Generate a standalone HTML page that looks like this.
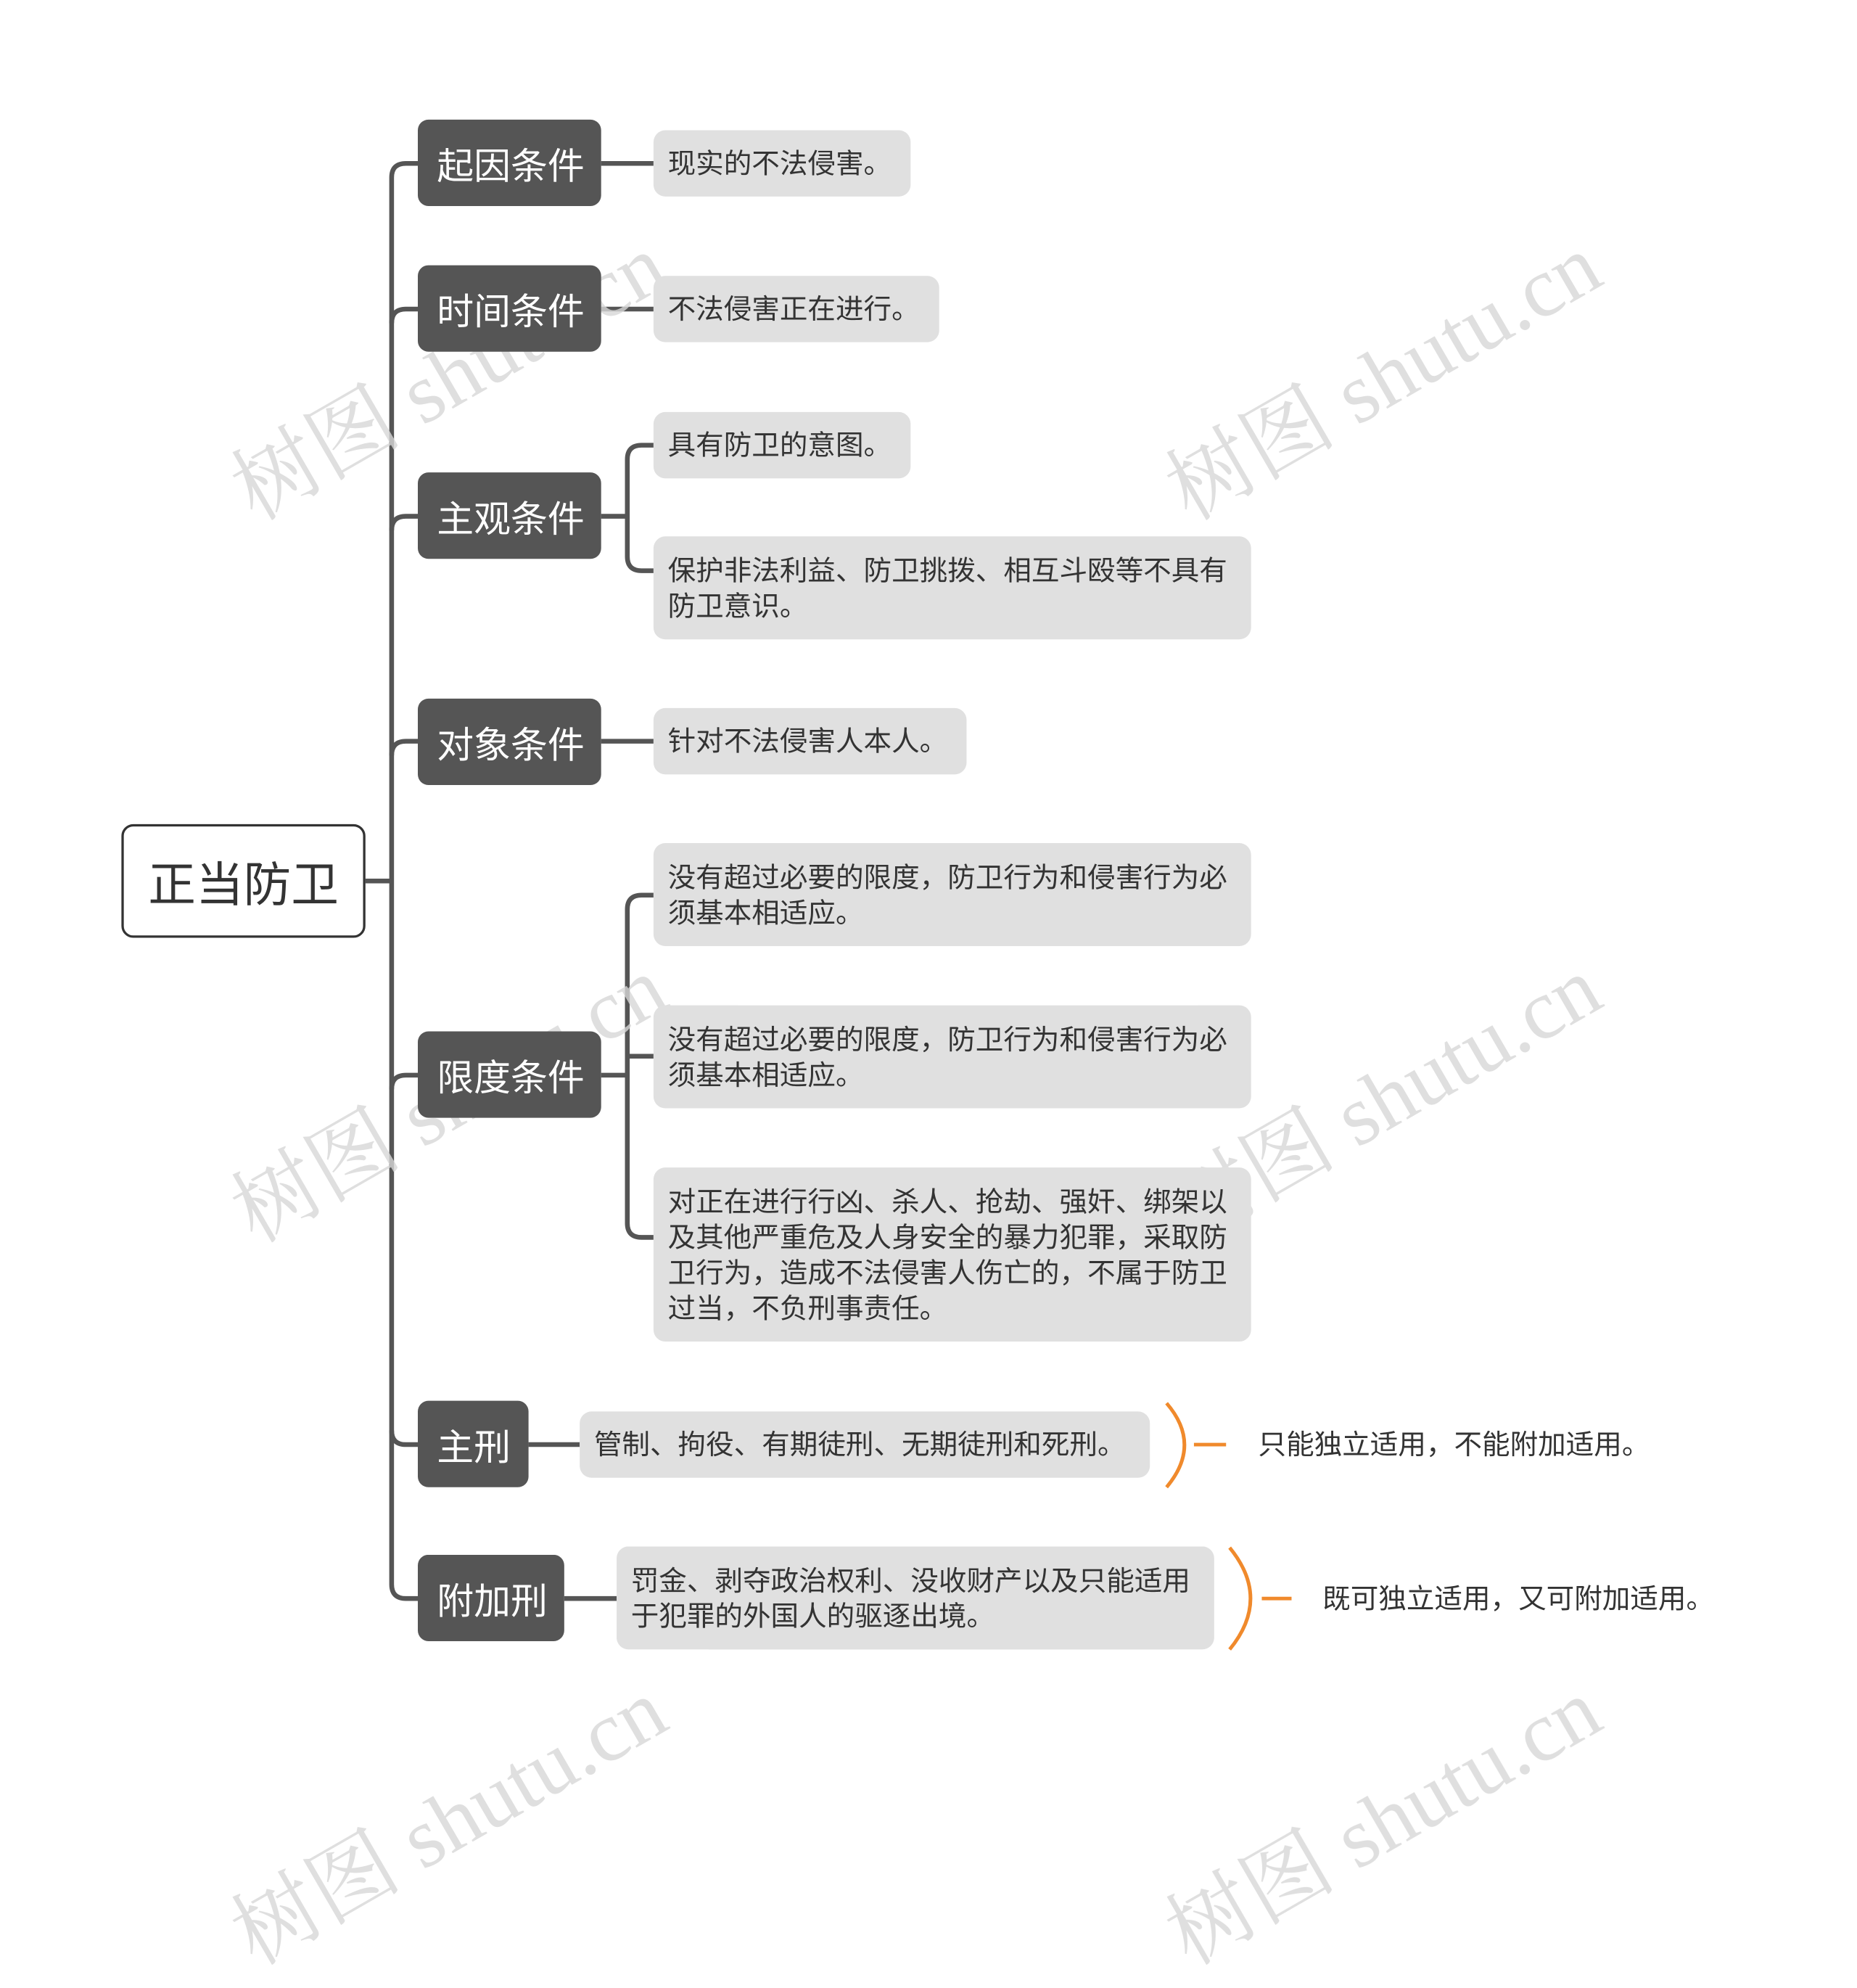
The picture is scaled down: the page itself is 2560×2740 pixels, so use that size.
<!DOCTYPE html>
<html><head><meta charset="utf-8"><style>
html,body{margin:0;padding:0;background:#fff;}
body{width:2560px;height:2440px;overflow:hidden;position:relative;}
#s{position:absolute;left:0;top:0;width:1560px;height:1495px;transform-origin:0 0;transform:scale(1.641,1.632);font-family:"Liberation Sans","Noto Sans CJK SC",sans-serif;}
.b{position:absolute;box-sizing:border-box;}
.r{border:2px solid #333;border-radius:10px;background:#fff;color:#333;font-size:40px;display:flex;align-items:center;justify-content:center;}
.d{background:#555;border-radius:9px;color:#fff;font-size:31px;display:flex;align-items:center;padding-left:16px;}
.l{background:#e0e0e0;border-radius:10px;color:#333;font-size:23.5px;line-height:30px;padding:0 12px;display:flex;align-items:center;}
.t{position:absolute;color:#333;font-size:23.5px;line-height:30px;white-space:nowrap;}
.w{position:absolute;color:#d8d8d8;font-family:"Liberation Serif","Noto Serif CJK SC",serif;font-size:72px;transform:rotate(-30deg);transform-origin:0 100%;white-space:nowrap;opacity:.8;}
</style></head><body><div id="s">
<svg width="1560" height="1495" style="position:absolute;left:0;top:0">
<g fill="none" stroke="#555" stroke-width="4">
<path d="M307 744 H329"/>
<path d="M351 138 H341 Q329 138 329 150 V1338 Q329 1350 341 1350 H351"/>
<path d="M329 273 Q329 261 341 261 H351"/>
<path d="M329 448 Q329 436 341 436 H351"/>
<path d="M329 638 Q329 626 341 626 H351"/>
<path d="M329 920 Q329 908 341 908 H351"/>
<path d="M329 1208 Q329 1220 341 1220 H351"/>
<path d="M505 138 H549 M505 261 H549 M505 626 H549 M444 1220 H487 M474 1350 H518"/>
<path d="M505 436 H527 M549 376 H539 Q527 376 527 388 V470 Q527 482 539 482 H549"/>
<path d="M505 908 H527 M549 756 H539 Q527 756 527 768 V1033 Q527 1045 539 1045 H549 M527 892 H549"/>
</g>
<g fill="none" stroke="#f08a2c" stroke-width="3">
<path d="M980 1185 Q1010 1220 980 1256 M1003 1220 H1030"/>
<path d="M1033 1307 Q1068 1350 1033 1393 M1060 1350 H1085"/>
</g>
</svg>
<div class="w" style="left:225px;top:355px">树图 shutu.cn</div>
<div class="w" style="left:1010px;top:355px">树图 shutu.cn</div>
<div class="w" style="left:225px;top:965px">树图 shutu.cn</div>
<div class="w" style="left:1010px;top:965px">树图 shutu.cn</div>
<div class="w" style="left:225px;top:1575px">树图 shutu.cn</div>
<div class="w" style="left:1010px;top:1575px">树图 shutu.cn</div>

<div class="b r" style="left:102px;top:696px;width:205px;height:96px">正当防卫</div>
<div class="b d" style="left:351px;top:101px;width:154px;height:73px">起因条件</div>
<div class="b d" style="left:351px;top:224px;width:154px;height:73px">时间条件</div>
<div class="b d" style="left:351px;top:399px;width:154px;height:73px">主观条件</div>
<div class="b d" style="left:351px;top:590px;width:154px;height:73px">对象条件</div>
<div class="b d" style="left:351px;top:871px;width:154px;height:73px">限度条件</div>
<div class="b d" style="left:351px;top:1183px;width:93px;height:73px">主刑</div>
<div class="b d" style="left:351px;top:1313px;width:123px;height:73px">附加刑</div>

<div class="b l" style="left:549px;top:110px;width:216px;height:56px">现实的不法侵害。</div>
<div class="b l" style="left:549px;top:233px;width:240px;height:56px">不法侵害正在进行。</div>
<div class="b l" style="left:549px;top:348px;width:216px;height:56px">具有防卫的意图。</div>
<div class="b l" style="left:549px;top:453px;width:502px;height:87px">保护非法利益、防卫挑拨、相互斗殴等不具有防卫意识。</div>
<div class="b l" style="left:549px;top:598px;width:263px;height:56px">针对不法侵害人本人。</div>
<div class="b l" style="left:549px;top:712px;width:502px;height:87px">没有超过必要的限度，防卫行为和侵害行为必须基本相适应。</div>
<div class="b l" style="left:549px;top:849px;width:502px;height:87px">没有超过必要的限度，防卫行为和侵害行为必须基本相适应。</div>
<div class="b l" style="left:549px;top:986px;width:502px;height:147px">对正在进行行凶、杀人、抢劫、强奸、绑架以及其他严重危及人身安全的暴力犯罪，采取防卫行为，造成不法侵害人伤亡的，不属于防卫过当，不负刑事责任。</div>
<div class="b l" style="left:487px;top:1192px;width:479px;height:56px">管制、拘役、有期徒刑、无期徒刑和死刑。</div>
<div class="b l" style="left:518px;top:1306px;width:502px;height:87px">罚金、剥夺政治权利、没收财产以及只能适用于犯罪的外国人的驱逐出境。</div>

<div class="t" style="left:1057px;top:1205px">只能独立适用，不能附加适用。</div>
<div class="t" style="left:1111px;top:1335px">既可独立适用，又可附加适用。</div>
</div></body></html>
